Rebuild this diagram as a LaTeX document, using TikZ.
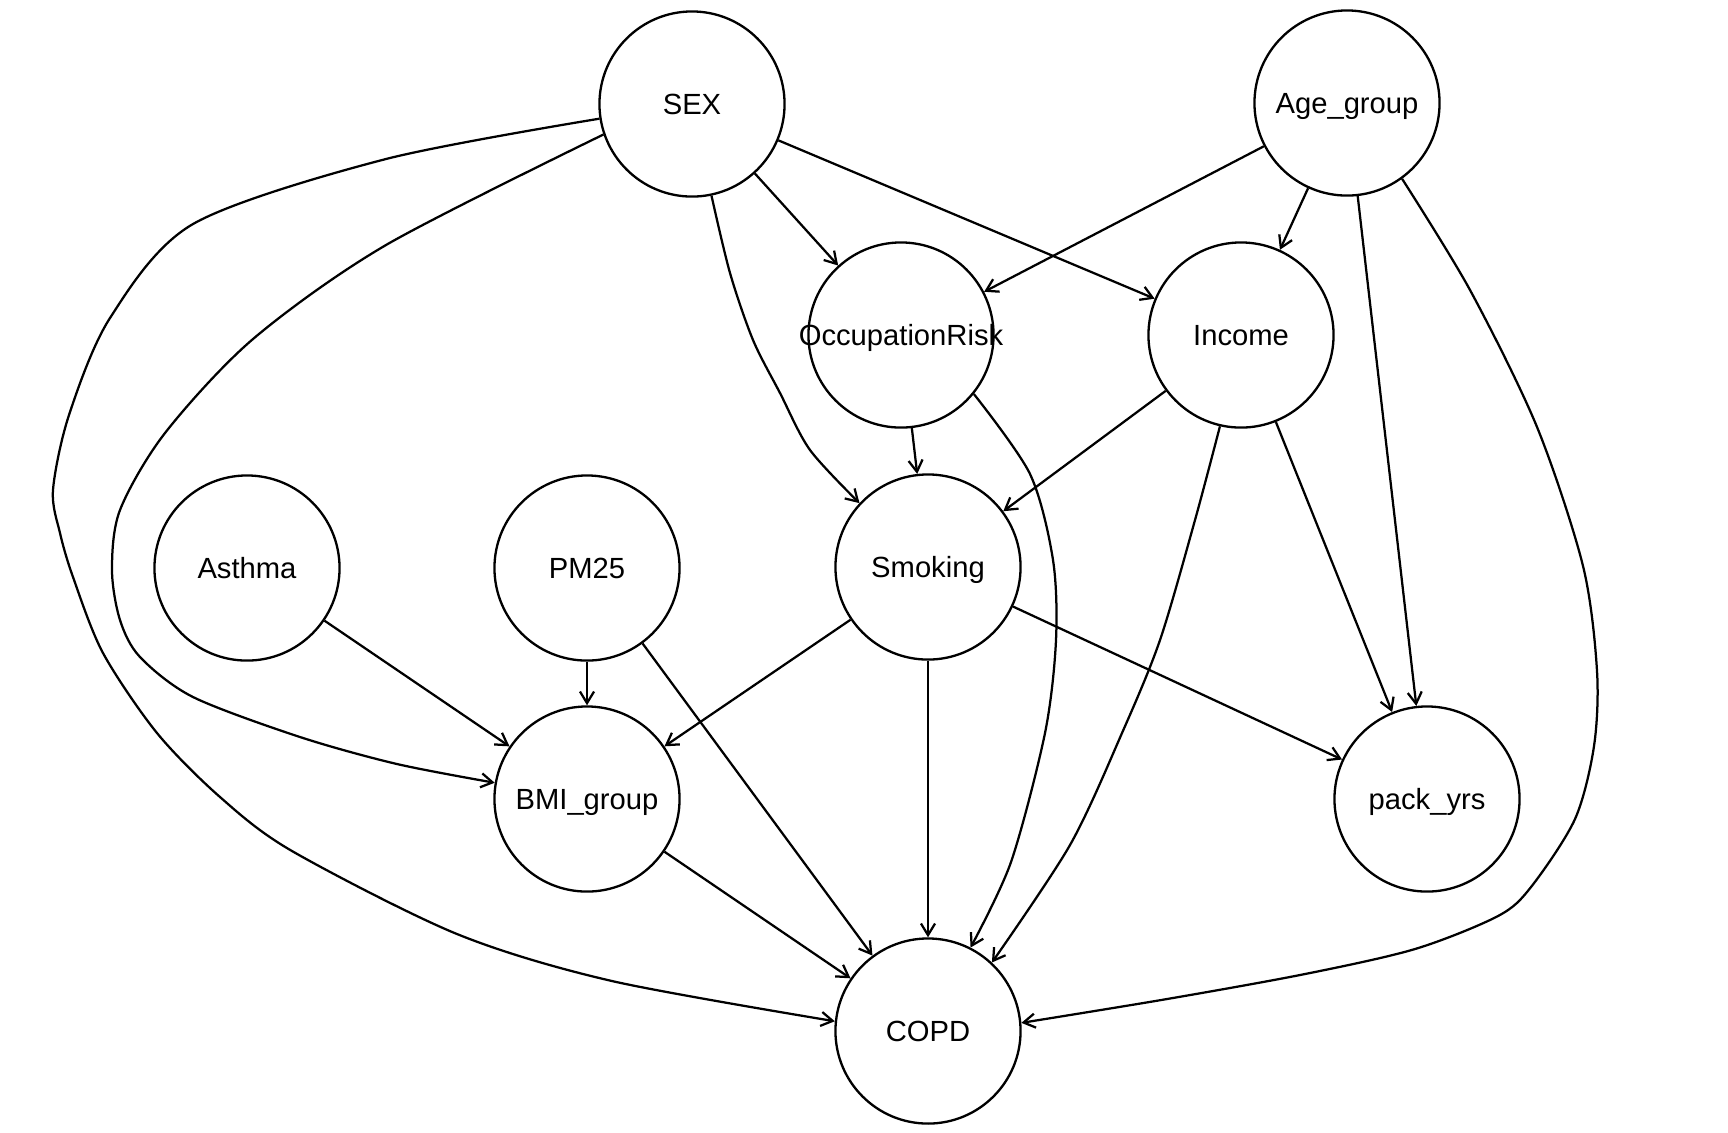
\documentclass[tikz,border=0pt]{standalone}
\usepackage{fontspec}
\setmainfont{Liberation Sans}
\usetikzlibrary{arrows.meta}
\begin{document}
\begin{tikzpicture}[x=0.01cm, y=-0.01cm,
  var/.style={circle, draw, line width=0.66pt, minimum size=1.85cm, inner sep=0pt,
    text height=5.94pt, text depth=0pt, font=\fontsize{8.3}{10}\selectfont},
  edge/.style={line width=0.64pt, -{Straight Barb[length=3.3pt,width=4pt]}}]
\useasboundingbox (0,0) rectangle (1728,1132);

% variables
\node[var] (SEX)    at (692,104)  {SEX};
\node[var] (Age)    at (1347,103) {Age\_group};
\node[var] (Occ)    at (901,335)  {\makebox[0pt]{OccupationRisk}};
\node[var] (Income) at (1241,335) {Income};
\node[var] (Asthma) at (247,568)  {Asthma};
\node[var] (PM25)   at (587,568)  {PM25};
\node[var] (Smoking) at (928,567) {Smoking};
\node[var] (BMI)    at (587,799)  {BMI\_group};
\node[var] (Pack)   at (1427,799) {pack\_yrs};
\node[var] (COPD)   at (928,1031) {COPD};

% straight arrows
\draw[edge] (SEX) -- (Occ);
\draw[edge] (SEX) -- (Income);
\draw[edge] (Age) -- (Occ);
\draw[edge] (Age) -- (Income);
\draw[edge] (Age) -- (Pack);
\draw[edge] (Occ) -- (Smoking);
\draw[edge] (Income) -- (Smoking);
\draw[edge] (Income) -- (Pack);
\draw[edge] (Asthma) -- (BMI);
\draw[edge] (PM25) -- (BMI);
\draw[edge] (PM25) -- (COPD);
\draw[edge] (Smoking) -- (BMI);
\draw[edge] (Smoking) -- (COPD);
\draw[edge] (Smoking) -- (Pack);
\draw[edge] (BMI) -- (COPD);

% routed arrows
\draw[edge] plot[smooth, tension=0.5] coordinates {(SEX.189) (386,159) (193,224) (110,318)
  (69,415) (53,490) (60,533) (73,577) (103,653) (157,733) (220,797) (292,851) (457,934)
  (612,981) (COPD.174)};
\draw[edge] plot[smooth, tension=0.5] coordinates {(SEX.199) (386,245) (253,339) (165,433)
  (120,510) (112,570) (120,620) (140,657) (193,697) (300,737) (397,764) (BMI.170)};
\draw[edge] plot[smooth, tension=0.5] coordinates {(SEX.282) (730,273) (753,340) (780,393)
  (810,450) (Smoking.137)};
\draw[edge] plot[smooth, tension=0.5] coordinates {(Occ.321) (1030,474) (1053,560) (1056,640)
  (1045,733) (1011,862) (COPD.63)};
\draw[edge] plot[smooth, tension=0.5] coordinates {(Income.257) (1195,520) (1160,640) (1122,733)
  (1070,845) (COPD.47)};
\draw[edge] plot[smooth, tension=0.5] coordinates {(Age.306) (1470,290) (1537,427) (1583,566)
  (1597,671) (1594,746) (1575,819) (1531,887) (1498,916) (1415,949) (1305,974) (1167,999) (COPD.5)};
\end{tikzpicture}
\end{document}
